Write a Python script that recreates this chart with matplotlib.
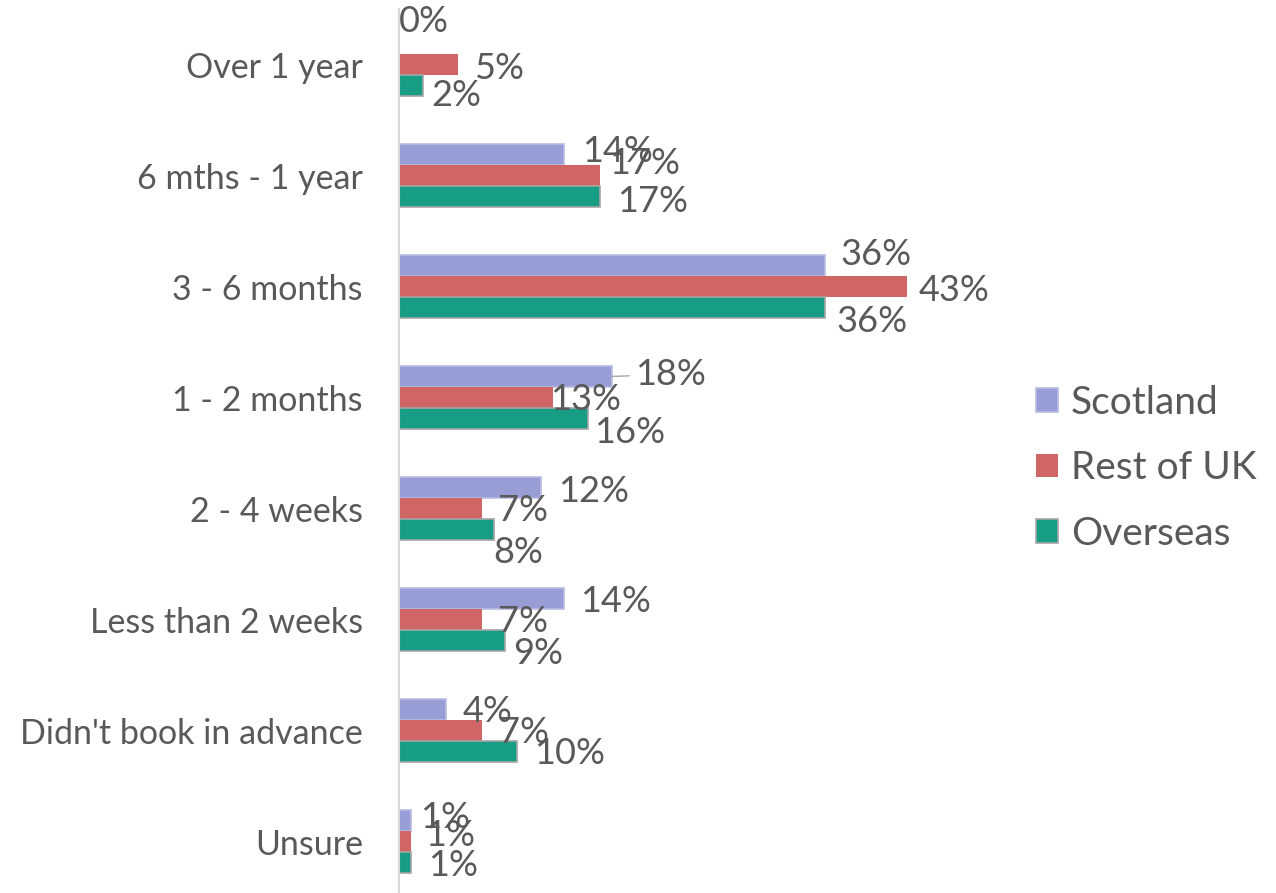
import numpy as np
import matplotlib.pyplot as plt

categories = ["Over 1 year", "6 mths - 1 year", "3 - 6 months", "1 - 2 months",
              "2 - 4 weeks", "Less than 2 weeks", "Didn't book in advance", "Unsure"]
scotland = [0, 14, 36, 18, 12, 14, 4, 1]
rest_of_uk = [5, 17, 43, 13, 7, 7, 7, 1]
overseas = [2, 17, 36, 16, 8, 9, 10, 1]

series = [("Scotland", scotland, "#989DD5", "#B9BCE3"),
          ("Rest of UK", rest_of_uk, "#D06565", "none"),
          ("Overseas", overseas, "#179D84", "#A5A5A5")]

# label nudges in pixels (dx right, dy down) from the bar end, like the hand-placed Excel labels
nudges = [
    [(0, -22), (18, -3), (16, -11), (23, -2), (17, 4), (16, 3), (16, 2), (9, -3)],
    [(16, 4), (9, -12), (11, 4), (-3, 2), (16, 2), (16, 2), (17, 2), (14, -6)],
    [(9, 10), (17, 5), (12, 14), (6, 14), (0, 23), (8, 13), (17, 2), (17, 3)],
]

plt.rcParams['font.family'] = ['Lato', 'DejaVu Sans']
grey = "#595959"

fig = plt.figure(figsize=(12.76, 8.93), dpi=100)
ax = fig.add_axes([0.3127, -0.0045, 0.4632, 0.9944])

y = np.arange(len(categories))
h = 0.19
for k, (name, vals, col, edge) in enumerate(series):
    ypos = y + (k - 1) * h
    ax.barh(ypos, vals, height=h, color=col, edgecolor=edge,
            linewidth=1.2 if edge != "none" else 0, label=name)
    for i, v in enumerate(vals):
        dx, dy = nudges[k][i]
        arrow = None
        if name == "Scotland" and categories[i] == "1 - 2 months":
            arrow = dict(arrowstyle="-", color="#A6A6A6", lw=1, shrinkA=2, shrinkB=0)
        ax.annotate(f"{v}%", xy=(v, ypos[i]), xytext=(dx, -dy),
                    textcoords="offset pixels", ha="left", va="center",
                    fontsize=26, color=grey, arrowprops=arrow)

ax.set_xlim(0, 50)
ax.set_ylim(len(categories) - 0.5, -0.5)
ax.set_yticks(y)
ax.set_yticklabels(categories, fontsize=24.5, color=grey)
ax.tick_params(axis="y", length=0, pad=26)
ax.set_xticks([])
for s in ["top", "right", "bottom"]:
    ax.spines[s].set_visible(False)
ax.spines["left"].set_color("#D9D9D9")
ax.spines["left"].set_linewidth(1.5)

ax.legend(loc="center left", bbox_to_anchor=(1.078, 0.483), frameon=False,
          fontsize=28, labelcolor=grey, handlelength=0.56, handleheight=0.56,
          handletextpad=0.34, labelspacing=0.76, borderpad=0, borderaxespad=0)

fig.savefig("out.png", dpi=100)
